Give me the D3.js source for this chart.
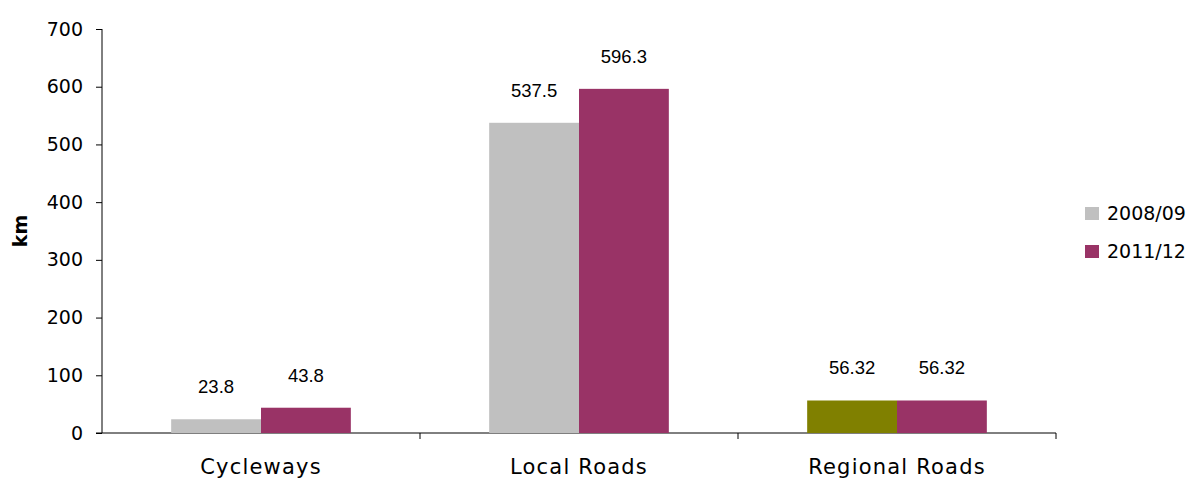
<!DOCTYPE html>
<html><head><meta charset="utf-8">
<script src="https://cdn.jsdelivr.net/npm/d3@7"></script>
<style>body{margin:0;background:#fff;}svg{display:block;}</style>
</head><body>
<svg id="chart" width="1196" height="481"></svg>
<script>
const categories = ["Cycleways", "Local Roads", "Regional Roads"];
const seriesNames = ["2008/09", "2011/12"];
const values2008 = [23.8, 537.5, 56.32];
const values2011 = [43.8, 596.3, 56.32];
const labels2008 = ["23.8", "537.5", "56.32"];
const labels2011 = ["43.8", "596.3", "56.32"];
const yTicks = [0, 100, 200, 300, 400, 500, 600, 700];
const seriesColors = ["#C0C0C0", "#993366"];
const pointOverrideColor = {series: 0, index: 2, color: "#808000"};

const svg = d3.select("#chart");
const m = {left: 102, right: 140, top: 29, bottom: 48};
const x0 = d3.scaleBand().domain(categories).range([m.left, 1056]).padding(0);
const x1 = d3.scaleBand().domain(seriesNames).range([0, x0.bandwidth()]).paddingOuter(0.77).paddingInner(0);
const y = d3.scaleLinear().domain([0, 700]).range([433, 29]);

const tickFont = "'DejaVu Sans', sans-serif";
const lblFont = "'Liberation Sans', Arial, sans-serif";

// y axis
const yAxis = svg.append("g").attr("transform", `translate(${m.left},0)`)
  .call(d3.axisLeft(y).tickValues(yTicks).tickSize(6).tickPadding(13).tickFormat(d3.format("d")));
yAxis.selectAll("path,line").attr("stroke", "#000").attr("stroke-width", 1);
yAxis.select("path").attr("d", `M0,${y(700)}V${y(0)}`);
yAxis.selectAll("text").attr("font-family", tickFont).attr("font-size", 19).attr("fill", "#000");

// x axis
const xAxis = svg.append("g").attr("transform", `translate(0,${y(0)})`);
xAxis.append("line").attr("x1", m.left - 6).attr("x2", 1056).attr("stroke", "#000");
const boundaries = categories.map(c => x0(c) + x0.bandwidth());
xAxis.selectAll(".bt").data(boundaries).join("line")
  .attr("x1", d => d).attr("x2", d => d).attr("y1", 0).attr("y2", 6).attr("stroke", "#000");
xAxis.selectAll(".cl").data(categories).join("text")
  .attr("x", d => x0(d) + x0.bandwidth() / 2).attr("y", 41)
  .attr("text-anchor", "middle").attr("font-family", tickFont).attr("font-size", 21)
  .attr("letter-spacing", "1.2px")
  .attr("fill", "#000").text(d => d);

// y title
svg.append("text").attr("transform", "translate(27,231) rotate(-90)")
  .attr("text-anchor", "middle").attr("font-family", tickFont).attr("font-size", 19)
  .attr("font-weight", "bold").attr("fill", "#000").text("km");

// bars
const series = [values2008, values2011];
const seriesLabels = [labels2008, labels2011];
series.forEach((vals, si) => {
  const g = svg.append("g");
  g.selectAll("rect").data(vals).join("rect")
    .attr("x", (d, i) => x0(categories[i]) + x1(seriesNames[si]))
    .attr("width", x1.bandwidth())
    .attr("y", d => y(d))
    .attr("height", d => y(0) - y(d))
    .attr("fill", (d, i) => (pointOverrideColor.series === si && pointOverrideColor.index === i) ? pointOverrideColor.color : seriesColors[si]);
  g.selectAll("text").data(vals).join("text")
    .attr("x", (d, i) => x0(categories[i]) + x1(seriesNames[si]) + x1.bandwidth() / 2)
    .attr("y", d => y(d) - 26)
    .attr("text-anchor", "middle").attr("font-family", lblFont).attr("font-size", 18.5)
    .attr("fill", "#000").text((d, i) => seriesLabels[si][i]);
});

// legend
const leg = svg.append("g").attr("transform", "translate(1085,207)");
seriesNames.forEach((s, i) => {
  leg.append("rect").attr("x", 0).attr("y", i * 38).attr("width", 14).attr("height", 13).attr("fill", seriesColors[i]);
  leg.append("text").attr("x", 22).attr("y", i * 38 + 13).attr("font-family", tickFont)
    .attr("font-size", 19).attr("fill", "#000").text(s);
});
</script>
</body></html>
